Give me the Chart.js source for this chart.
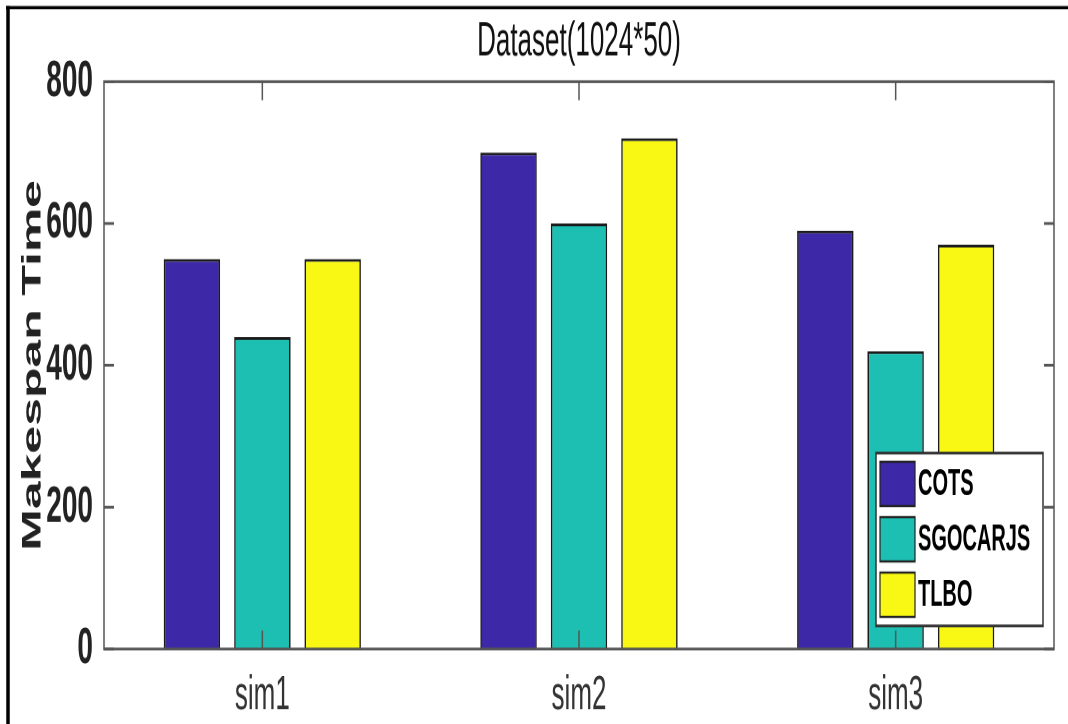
<!DOCTYPE html>
<html>
<head>
<meta charset="UTF-8">
<title>Dataset(1024*50)</title>
<script src="https://cdn.jsdelivr.net/npm/chart.js"></script>
<style>
  html, body { margin: 0; padding: 0; background: #fff; overflow: hidden; }
  /* the source figure is stretched vertically, so draw short and scale up */
  #wrap { position: absolute; left: 0; top: 0; width: 1068px; height: 392px;
          transform: scaleY(1.8469); transform-origin: 0 0; }
</style>
</head>
<body>
<div id="wrap"><canvas id="chart"></canvas></div>
<script>
const categories = ['sim1', 'sim2', 'sim3'];
const cots = [550, 700, 590];
const sgocarjs = [440, 600, 420];
const tlbo = [550, 720, 570];
const yTicks = [0, 200, 400, 600, 800];

const sans = "'Liberation Sans', Arial, sans-serif";

// matlab style box, inward ticks, figure frame and legend
const matlabBox = {
    id: 'matlabBox',
    afterDatasetsDraw(chart) {
        const {ctx, chartArea: a, scales: {x, y}} = chart;
        ctx.save();
        ctx.strokeStyle = '#555';
        ctx.lineWidth = 1.5;
        ctx.strokeRect(a.left, a.top, a.right - a.left, a.bottom - a.top);
        ctx.beginPath();
        y.ticks.forEach(t => {
            const py = y.getPixelForValue(t.value);
            ctx.moveTo(a.left, py); ctx.lineTo(a.left + 10, py);
            ctx.moveTo(a.right, py); ctx.lineTo(a.right - 10, py);
        });
        categories.forEach((c, i) => {
            const px = x.getPixelForValue(i);
            ctx.moveTo(px, a.bottom); ctx.lineTo(px, a.bottom - 10);
            ctx.moveTo(px, a.top); ctx.lineTo(px, a.top + 10);
        });
        ctx.stroke();

        ctx.strokeStyle = '#000';
        ctx.lineWidth = 1.7;
        ctx.beginPath(); ctx.moveTo(6, 4.1); ctx.lineTo(chart.width, 4.1); ctx.stroke();
        ctx.lineWidth = 3.5;
        ctx.beginPath(); ctx.moveTo(8, 3.2); ctx.lineTo(8, chart.height); ctx.stroke();
        ctx.restore();
    },
    afterDraw(chart) {
        const ctx = chart.ctx;
        const bx = 876, by = 245.3, bw = 167, bh = 93.6;
        ctx.save();
        ctx.fillStyle = '#fff';
        ctx.fillRect(bx, by, bw, bh);
        ctx.strokeStyle = '#333';
        ctx.lineWidth = 1.5;
        ctx.strokeRect(bx, by, bw, bh);
        ctx.font = 'bold 20px ' + sans;
        ctx.textBaseline = 'middle';
        chart.data.datasets.forEach((ds, i) => {
            const top = by + 4.7 + i * 30;
            ctx.fillStyle = ds.backgroundColor;
            ctx.fillRect(bx + 4, top, 35, 24);
            ctx.strokeStyle = '#222';
            ctx.lineWidth = 1.2;
            ctx.strokeRect(bx + 4, top, 35, 24);
            ctx.fillStyle = '#000';
            ctx.fillText(ds.label, bx + 42, top + 12.5);
        });
        ctx.restore();
    }
};

new Chart(document.getElementById('chart'), {
    type: 'bar',
    data: {
        labels: categories,
        datasets: [
            {label: 'COTS', data: cots, backgroundColor: '#3d28a8'},
            {label: 'SGOCARJS', data: sgocarjs, backgroundColor: '#1cbfb1'},
            {label: 'TLBO', data: tlbo, backgroundColor: '#f8f814'}
        ].map(d => Object.assign(d, {
            borderColor: '#1b1b1b', borderWidth: 1.5,
            categoryPercentage: 0.667, barPercentage: 0.8
        }))
    },
    options: {
        responsive: true,
        maintainAspectRatio: false,
        animation: false,
        devicePixelRatio: 2,
        layout: {padding: {left: 0, right: 14, top: 0, bottom: 0}},
        plugins: {
            legend: {display: false},
            tooltip: {enabled: false},
            title: {
                display: true,
                text: 'Dataset(1024*50)',
                fullSize: false,
                color: '#111',
                font: {family: sans, size: 26, weight: 'normal'},
                padding: {top: 7, bottom: 6}
            }
        },
        scales: {
            x: {
                grid: {display: false, drawTicks: false},
                border: {display: false},
                ticks: {color: '#333', font: {family: sans, size: 26}, padding: 10},
                afterFit(s) { s.height = 40.6; }
            },
            y: {
                min: 0,
                max: 800,
                afterBuildTicks(s) { s.ticks = yTicks.map(v => ({value: v})); },
                grid: {display: false, drawTicks: false},
                border: {display: false},
                ticks: {
                    color: '#222',
                    font: {family: "'Liberation Sans Narrow', 'Liberation Sans', sans-serif", size: 28, weight: 'bold'},
                    padding: 11
                },
                title: {
                    display: true,
                    text: 'Makespan Time',
                    color: '#222',
                    font: {family: sans, size: 27, weight: 'bold'},
                    padding: {top: 17, bottom: 0}
                },
                afterFit(s) { s.width = 104; }
            }
        }
    },
    plugins: [matlabBox]
});
</script>
</body>
</html>
